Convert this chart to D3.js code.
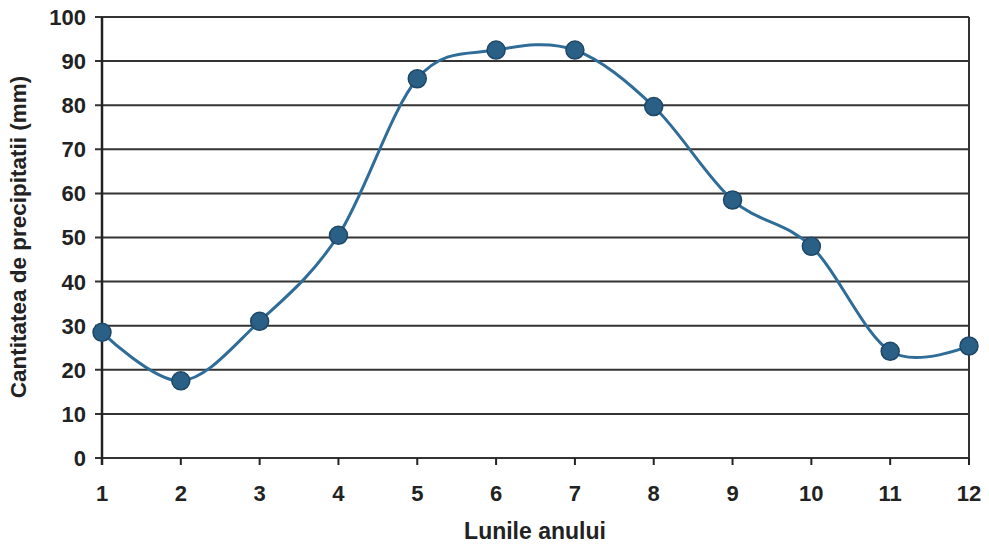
<!DOCTYPE html>
<html>
<head>
<meta charset="utf-8">
<script src="https://cdn.jsdelivr.net/npm/d3@7"></script>
<style>
  body { margin: 0; background: #fff; }
  text { font-family: "Liberation Sans", Arial, sans-serif; font-weight: bold; fill: #222; }
</style>
</head>
<body>
<script>
var months = [1, 2, 3, 4, 5, 6, 7, 8, 9, 10, 11, 12];
var rain = [28.5, 17.5, 31, 50.5, 86, 92.5, 92.5, 79.7, 58.5, 48, 24.2, 25.4];
var yTicks = [0, 10, 20, 30, 40, 50, 60, 70, 80, 90, 100];

var width = 989, height = 546;
var plotLeft = 102, plotRight = 969, plotTop = 17, plotBottom = 458;

var svg = d3.select("body")
  .append("svg")
    .attr("width", width)
    .attr("height", height);

var x = d3.scaleLinear().domain([1, 12]).range([plotLeft, plotRight]);
var y = d3.scaleLinear().domain([0, 100]).range([plotBottom, plotTop]);

// horizontal gridlines with small ticks on the left
svg.selectAll("line.grid")
    .data(yTicks)
  .enter().append("line")
    .attr("class", "grid")
    .attr("x1", plotLeft - 7)
    .attr("x2", plotRight)
    .attr("y1", function(d) { return y(d); })
    .attr("y2", function(d) { return y(d); })
    .attr("stroke", "#333")
    .attr("stroke-width", 2);

// y axis and right border
svg.append("line")
    .attr("x1", plotLeft).attr("x2", plotLeft)
    .attr("y1", plotTop).attr("y2", plotBottom + 7)
    .attr("stroke", "#222").attr("stroke-width", 2.5);
svg.append("line")
    .attr("x1", plotRight).attr("x2", plotRight)
    .attr("y1", plotTop).attr("y2", plotBottom + 7)
    .attr("stroke", "#333").attr("stroke-width", 2);

// x ticks
svg.selectAll("line.xtick")
    .data(months)
  .enter().append("line")
    .attr("class", "xtick")
    .attr("x1", function(d) { return x(d); })
    .attr("x2", function(d) { return x(d); })
    .attr("y1", plotBottom)
    .attr("y2", plotBottom + 7)
    .attr("stroke", "#222")
    .attr("stroke-width", 2);

svg.selectAll("text.ylab")
    .data(yTicks)
  .enter().append("text")
    .attr("class", "ylab")
    .attr("x", 86)
    .attr("y", function(d) { return y(d); })
    .attr("dy", "0.36em")
    .attr("text-anchor", "end")
    .style("font-size", "22px")
    .text(function(d) { return d; });

svg.selectAll("text.xlab")
    .data(months)
  .enter().append("text")
    .attr("class", "xlab")
    .attr("x", function(d) { return x(d); })
    .attr("y", 493)
    .attr("dy", "0.36em")
    .attr("text-anchor", "middle")
    .style("font-size", "22px")
    .text(function(d) { return d; });

svg.append("text")
    .attr("x", 535)
    .attr("y", 531)
    .attr("dy", "0.36em")
    .attr("text-anchor", "middle")
    .style("font-size", "23px")
    .text("Lunile anului");

svg.append("text")
    .attr("transform", "translate(18,237) rotate(-90)")
    .attr("dy", "0.36em")
    .attr("text-anchor", "middle")
    .style("font-size", "22.5px")
    .text("Cantitatea de precipitatii (mm)");

var pts = months.map(function(m, i) { return [m, rain[i]]; });

var line = d3.line()
    .x(function(d) { return x(d[0]); })
    .y(function(d) { return y(d[1]); })
    .curve(d3.curveCatmullRom.alpha(0));

svg.append("path")
    .datum(pts)
    .attr("d", line)
    .attr("fill", "none")
    .attr("stroke", "#2f6d98")
    .attr("stroke-width", 3);

svg.selectAll("circle")
    .data(pts)
  .enter().append("circle")
    .attr("cx", function(d) { return x(d[0]); })
    .attr("cy", function(d) { return y(d[1]); })
    .attr("r", 9)
    .attr("fill", "#2a5f86")
    .attr("stroke", "#1f4766")
    .attr("stroke-width", 1.5);
</script>
</body>
</html>
